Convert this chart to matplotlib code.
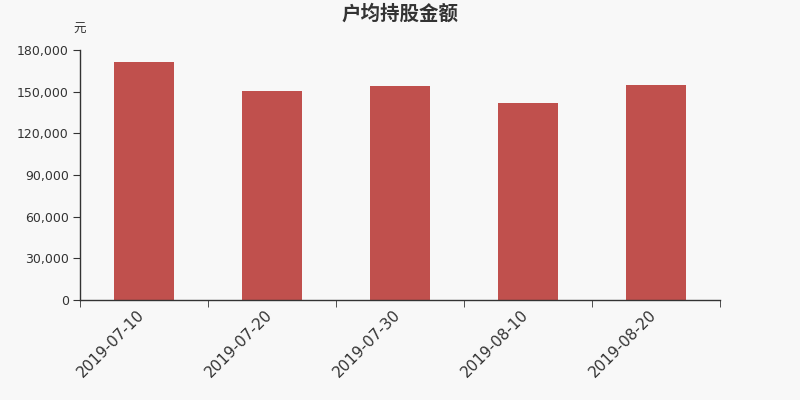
import matplotlib
matplotlib.use("Agg")
import matplotlib.pyplot as plt
from matplotlib.ticker import FuncFormatter, FixedLocator
from matplotlib.transforms import ScaledTranslation
import numpy as np

plt.rcParams['font.family'] = ['DejaVu Sans', 'Noto Sans CJK SC']

categories = ['2019-07-10', '2019-07-20', '2019-07-30', '2019-08-10', '2019-08-20']
values = [171400, 150200, 154100, 141800, 154800]
yticks = [0, 30000, 60000, 90000, 120000, 150000, 180000]

bg = '#f8f8f8'
fig = plt.figure(figsize=(8, 4), dpi=100, facecolor=bg)
ax = fig.add_axes([0.1, 0.25, 0.8, 0.625], facecolor=bg)

x = np.arange(len(categories))
ax.bar(x, values, width=0.47, color='#c0504d', zorder=2)

ax.set_xlim(-0.5, len(categories) - 0.5)
ax.set_ylim(0, 180000)
ax.set_yticks(yticks)
ax.yaxis.set_major_formatter(FuncFormatter(lambda v, p: f'{int(v):,}'))

ax.set_xticks(x)
ax.set_xticklabels(categories, rotation=45, ha='right', va='center',
                   rotation_mode='anchor', fontsize=11, color='#333333')
ax.tick_params(axis='x', which='major', length=0, pad=9)
off = ScaledTranslation(-2 / 100, 0, fig.dpi_scale_trans)
for lbl in ax.get_xticklabels():
    lbl.set_transform(lbl.get_transform() + off)
ax.xaxis.set_minor_locator(FixedLocator(np.arange(-0.5, len(categories), 1.0)))
ax.tick_params(axis='x', which='minor', length=5, color='#333333', direction='out')
ax.tick_params(axis='y', length=5, color='#333333', labelsize=9, labelcolor='#333333', pad=3)

for s in ['top', 'right']:
    ax.spines[s].set_visible(False)
for s in ['left', 'bottom']:
    ax.spines[s].set_color('#333333')
    ax.spines[s].set_linewidth(1)

fig.text(0.5, 0.966, '户均持股金额', ha='center', va='center', fontsize=14,
         fontweight='bold', color='#333333', family=['Noto Sans CJK SC', 'DejaVu Sans'])
fig.text(0.0994, 0.9275, '元', ha='center', va='center', fontsize=9, color='#333333',
         family=['Noto Sans CJK SC', 'DejaVu Sans'])

fig.savefig('out.png', dpi=100, facecolor=bg)
